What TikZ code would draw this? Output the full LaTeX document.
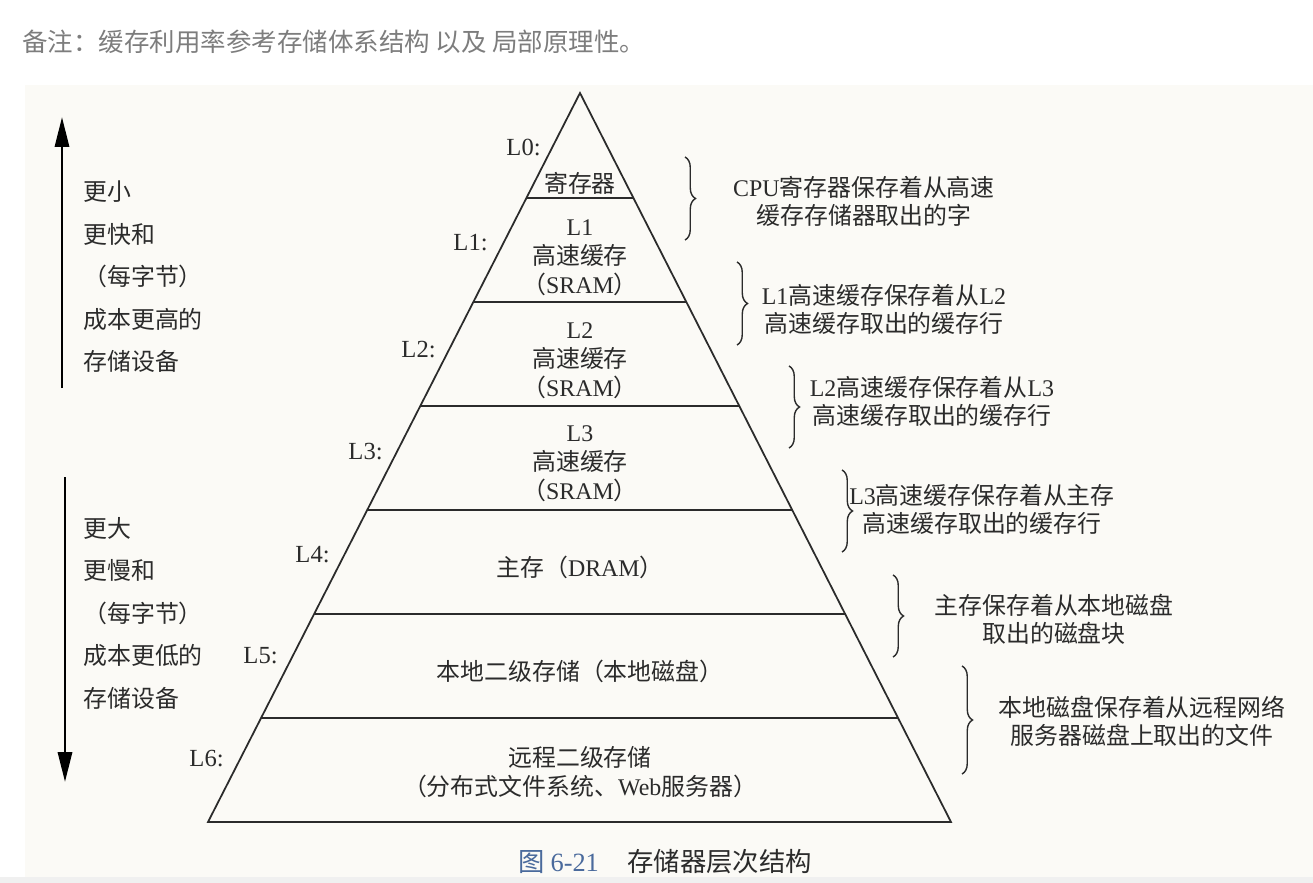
\documentclass[tikz,border=0pt]{standalone}
\usepackage{fontspec}
\setmainfont{Noto Sans CJK SC}
\newfontfamily\latinfont{Liberation Serif}
\usetikzlibrary{arrows.meta, calc, decorations.pathreplacing}
\definecolor{notegray}{HTML}{7D7D7D}
\definecolor{capblue}{HTML}{4A6A9C}
\definecolor{paper}{HTML}{FBFAF6}
\definecolor{inkgray}{HTML}{2B2B2B}
\newcommand{\lat}[1]{{\latinfont #1}}

\begin{document}
\begin{tikzpicture}[
    x=0.02cm, y=-0.02cm,
    every node/.style={inner sep=0pt, text=inkgray},
    lvl/.style={anchor=east, font=\fontsize{14}{16}\selectfont\latinfont},
    tier/.style={align=center, font=\fontsize{13.6}{16.5}\selectfont},
    remark/.style={align=center, font=\fontsize{13.6}{16}\selectfont},
    side/.style={anchor=west, align=left, font=\fontsize{13.6}{24.2}\selectfont},
    tri/.style={draw=inkgray, line width=1pt},
    bracket/.style={draw=inkgray, line width=0.8pt, decorate, decoration={brace, amplitude=6pt}},
    bigarrow/.style={draw=black, line width=1.7pt, -{Triangle[length=17pt, width=8pt]}}
]
    \useasboundingbox (0,0) rectangle (1313,883);
    \fill[paper] (25,85) rectangle (1313,877);
    \fill[black!6] (0,877) rectangle (1313,883);

    % Note above the figure
    \node[anchor=west, text=notegray, font=\fontsize{14.5}{17}\selectfont] (remarknote) at (22,42)
        {备注：缓存利用率参考存储体系结构 以及 局部原理性。};

    % Pyramid
    \coordinate (apex) at (580,93);
    \coordinate (bl) at (208,822);
    \coordinate (br) at (951,822);
    \draw[tri] (apex) -- (bl) -- (br) -- cycle;
    \foreach \y [count=\i] in {198,302,406,510,614,718} {
        \coordinate (lft\i) at ($(apex)!{(\y-93)/729}!(bl)$);
        \coordinate (rgt\i) at ($(apex)!{(\y-93)/729}!(br)$);
        \draw[tri] (lft\i) -- (rgt\i);
    }

    % Level labels
    \node[lvl] (lab0) at (541,147) {L0:};
    \node[lvl] (lab1) at (488,243) {L1:};
    \node[lvl] (lab2) at (436,350) {L2:};
    \node[lvl] (lab3) at (383,452) {L3:};
    \node[lvl] (lab4) at (330,555) {L4:};
    \node[lvl] (lab5) at (278,656) {L5:};
    \node[lvl] (lab6) at (224,759) {L6:};

    % Tier contents
    \node[tier] (reg) at (580,183) {寄存器};
    \node[tier] (cache1) at (580,258) {\lat{L1}\\高速缓存\\（\lat{SRAM}）};
    \node[tier] (cache2) at (580,361) {\lat{L2}\\高速缓存\\（\lat{SRAM}）};
    \node[tier] (cache3) at (580,464) {\lat{L3}\\高速缓存\\（\lat{SRAM}）};
    \node[tier] (dram) at (580,567) {主存（\lat{DRAM}）};
    \node[tier] (disk) at (580,671) {本地二级存储（本地磁盘）};
    \node[tier] (remote) at (580,772) {远程二级存储\\（分布式文件系统、\lat{Web}服务器）};

    % Braces on the right
    \foreach \x/\a/\b in {685/157/240, 737/262/345, 789/366/448, 842/470/552, 893/575/657, 962/666/774}
        \draw[bracket] (\x,\a) -- (\x,\b);

    \node[remark] (hold0) at (864,201) {\lat{CPU}寄存器保存着从高速\\缓存存储器取出的字};
    \node[remark] (hold1) at (884,309) {\lat{L1}高速缓存保存着从\lat{L2}\\高速缓存取出的缓存行};
    \node[remark] (hold2) at (932,401) {\lat{L2}高速缓存保存着从\lat{L3}\\高速缓存取出的缓存行};
    \node[remark] (hold3) at (982,509) {\lat{L3}高速缓存保存着从主存\\高速缓存取出的缓存行};
    \node[remark] (hold4) at (1054,619) {主存保存着从本地磁盘\\取出的磁盘块};
    \node[remark] (hold5) at (1142,721) {本地磁盘保存着从远程网络\\服务器磁盘上取出的文件};

    % Left arrows and texts
    \coordinate (upfoot) at (62,388);
    \coordinate (uphead) at (62,117);
    \coordinate (downfoot) at (65,477);
    \coordinate (downhead) at (65,782);
    \draw[bigarrow] (upfoot) -- (uphead);
    \draw[bigarrow] (downfoot) -- (downhead);
    \node[side] (faster) at (83,277) {更小\\更快和\\（每字节）\\成本更高的\\存储设备};
    \node[side] (slower) at (83,613) {更大\\更慢和\\（每字节）\\成本更低的\\存储设备};

    % Caption
    \node[anchor=west, text=capblue, font=\fontsize{15}{18}\selectfont] (fignum) at (518,862) {图 \lat{6-21}};
    \node[anchor=west, font=\fontsize{15}{18}\selectfont, text=inkgray] (figname) at (627,862) {存储器层次结构};
\end{tikzpicture}
\end{document}
